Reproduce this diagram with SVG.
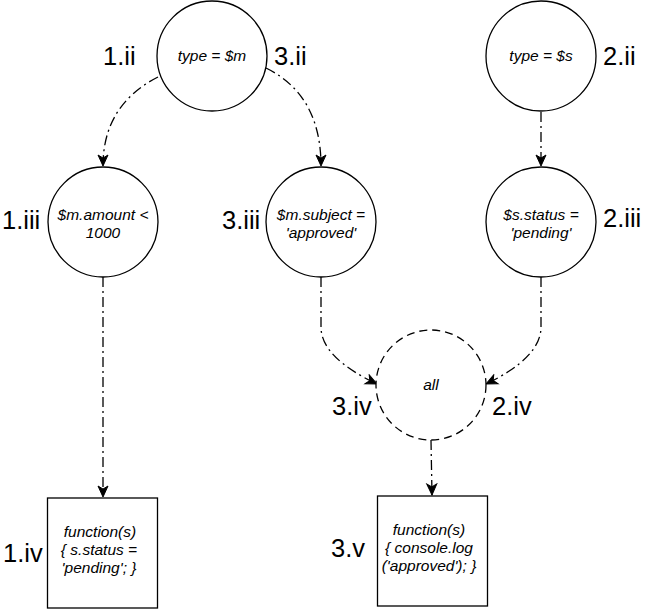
<svg xmlns="http://www.w3.org/2000/svg" width="646" height="610" viewBox="0 0 646 610">
<style>
.node{fill:#fff;stroke:#000;stroke-width:1.3}
.dash{stroke-dasharray:8 5}
.t{font-family:"Liberation Sans",Arial,sans-serif;font-size:15.5px;font-style:italic;text-anchor:middle;fill:#000}
.lbl{font-family:"Liberation Sans",Arial,sans-serif;font-size:25.5px;fill:#000}
.edge{fill:none;stroke:#000;stroke-width:1.3;stroke-dasharray:10 4 2 4}
</style>
<defs>
<marker id="arr" markerUnits="userSpaceOnUse" viewBox="-12 -7 13 14" refX="0" refY="0" markerWidth="13" markerHeight="14" orient="auto">
<path d="M-11,-5 L0,0 L-11,5 L-8,0 z" fill="#000" stroke="#000" stroke-width="1"/>
</marker>
</defs>
<g id="connectors">
<path class="edge" d="M158,77 Q103,105 103,166" marker-end="url(#arr)"/>
<path class="edge" d="M266,68 Q321,95 321,166" marker-end="url(#arr)"/>
<path class="edge" d="M541,112 L541,166" marker-end="url(#arr)"/>
<path class="edge" d="M103,277 L103,497" marker-end="url(#arr)"/>
<path class="edge" d="M321,277 L321,328 Q322,358 377,384" marker-end="url(#arr)"/>
<path class="edge" d="M541,277 L541,328 Q540,358 486,384" marker-end="url(#arr)"/>
<path class="edge" d="M431,440 L432,495" marker-end="url(#arr)"/>
</g>
<g id="type_m">
<circle class="node" cx="212" cy="56" r="55"/>
<text class="t" x="212" y="61">type = $m</text>
</g>
<g id="type_s">
<circle class="node" cx="541" cy="56" r="55"/>
<text class="t" x="541" y="61">type = $s</text>
</g>
<g id="m_amount">
<circle class="node" cx="103" cy="222" r="55"/>
<text class="t" x="103" y="220">$m.amount &lt;</text>
<text class="t" x="103" y="238">1000</text>
</g>
<g id="m_subject">
<circle class="node" cx="321" cy="222" r="55"/>
<text class="t" x="321" y="220">$m.subject =</text>
<text class="t" x="321" y="238">'approved'</text>
</g>
<g id="s_status">
<circle class="node" cx="541" cy="222" r="55"/>
<text class="t" x="541" y="220">$s.status =</text>
<text class="t" x="541" y="238">'pending'</text>
</g>
<g id="all">
<circle class="node dash" cx="431" cy="385" r="55"/>
<text class="t" x="431" y="390">all</text>
</g>
<g id="func1">
<rect class="node" x="47.5" y="498" width="110" height="110"/>
<text class="t" x="100" y="537">function(s)</text>
<text class="t" x="99" y="555">{ s.status =</text>
<text class="t" x="99" y="573">'pending'; }</text>
</g>
<g id="func2">
<rect class="node" x="377.5" y="496" width="110" height="110"/>
<text class="t" x="429" y="535">function(s)</text>
<text class="t" x="429" y="553">{ console.log</text>
<text class="t" x="429" y="571">('approved'); }</text>
</g>
<g id="labels">
<text class="lbl" x="103" y="65">1.ii</text>
<text class="lbl" x="274" y="65">3.ii</text>
<text class="lbl" x="603" y="65">2.ii</text>
<text class="lbl" x="2" y="229">1.iii</text>
<text class="lbl" x="222" y="229">3.iii</text>
<text class="lbl" x="603" y="227">2.iii</text>
<text class="lbl" x="332" y="415">3.iv</text>
<text class="lbl" x="492" y="415">2.iv</text>
<text class="lbl" x="3" y="562">1.iv</text>
<text class="lbl" x="331" y="557">3.v</text>
</g>
</svg>
